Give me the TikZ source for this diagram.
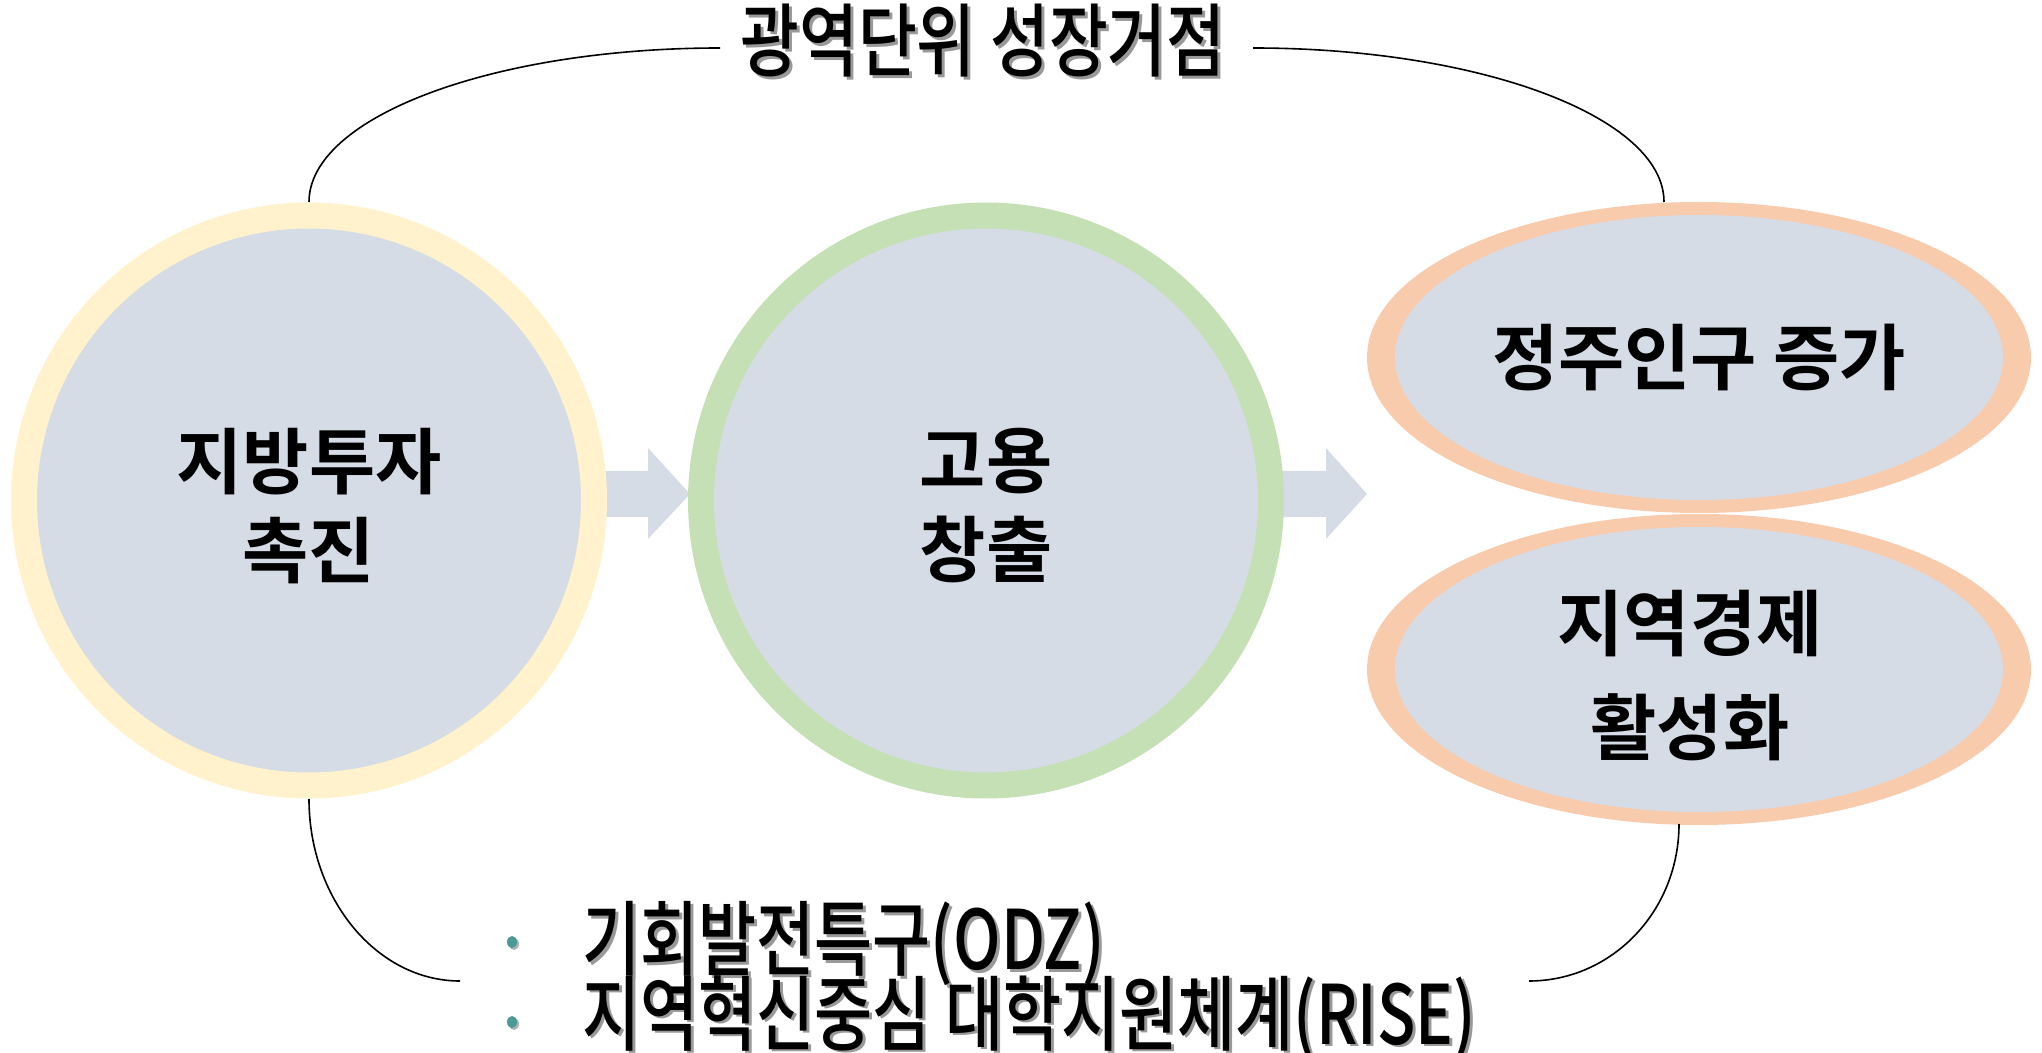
\documentclass[tikz,border=0pt]{standalone}
\usepackage{fontspec}
\usetikzlibrary{shapes.geometric}
\newfontfamily\krb{Noto Sans CJK KR Bold}
\newfontfamily\krc{Noto Sans CJK KR Medium}[FakeStretch=0.8]
\newfontfamily\krl{Noto Sans CJK KR Medium}[FakeStretch=0.77]
\definecolor{ringY}{HTML}{FFF2CC}
\definecolor{ringG}{HTML}{C5E0B4}
\definecolor{ringO}{HTML}{F8CBAD}
\definecolor{innerB}{HTML}{D6DCE5}
\definecolor{bulletteal}{HTML}{4A9A98}
\begin{document}
\begin{tikzpicture}[x=0.5pt,y=-0.5pt,
  ringcircle/.style={circle, draw=#1, line width=13pt, fill=innerB,
    minimum size=285pt, inner sep=0pt, outer sep=0pt},
  outerell/.style={ellipse, fill=ringO, minimum width=332pt, minimum height=155.5pt,
    inner sep=0pt, outer sep=0pt},
  innerell/.style={ellipse, fill=innerB, minimum width=304pt, minimum height=142.5pt,
    inner sep=0pt, outer sep=0pt},
  boldtext/.style={align=center, inner sep=0pt, font={\krb\fontsize{36}{44.5}\selectfont}},
  headtext/.style={inner sep=0pt, font={\krc\fontsize{40}{44}\selectfont}},
  bullettext/.style={anchor=base west, inner sep=0pt, text height=0.78em, text depth=0.04em,
    font={\krl\fontsize{41}{44}\selectfont}},
  shadowtext/.style={text=black!40},
  blockarrow/.style={fill=innerB},
  bracket/.style={draw=black, line width=0.8pt},
  dot/.style={ellipse, fill=bulletteal, minimum width=5pt, minimum height=6pt, inner sep=0pt},
  dotshadow/.style={ellipse, fill=black!30, minimum width=5pt, minimum height=6pt, inner sep=0pt}
]
\useasboundingbox (0,0) rectangle (2042,1053);

% block arrows (drawn first, shafts behind the circles)
\fill[blockarrow] (600,471) -- (648,471) -- (648,448) -- (690,494) -- (648,539) -- (648,517) -- (600,517) -- cycle;
\fill[blockarrow] (1276,471) -- (1326,471) -- (1326,448) -- (1367,494) -- (1326,539) -- (1326,517) -- (1276,517) -- cycle;

% circles
\node[ringcircle=ringY] (invest) at (309,500.5) {};
\node[ringcircle=ringG] (jobs) at (986,500.5) {};

% ellipses
\node[outerell] (popO) at (1699,357.5) {};
\node[innerell] (pop) at (1699,357.5) {};
\node[outerell] (econO) at (1699,669.5) {};
\node[innerell] (econ) at (1699,669.5) {};

% texts in shapes
\node[boldtext] (investT) at (309,506) {지방투자\\촉진};
\node[boldtext] (jobsT) at (986,506) {고용\\창출};
\node[boldtext] (popT) at (1699,358) {정주인구 증가};
\node[boldtext, font={\krb\fontsize{36}{52}\selectfont}] (econT) at (1690,675.5) {지역경제\\활성화};

% brackets
\coordinate (tl) at (309,202);
\coordinate (tle) at (720,48);
\coordinate (tre) at (1253,48);
\coordinate (tr) at (1664,202);
\coordinate (bl) at (309,799);
\coordinate (ble) at (460,981);
\coordinate (bre) at (1529,981);
\coordinate (br) at (1679,824);
\draw[bracket] (tl) .. controls (309,117) and (493,48) .. (tle);
\draw[bracket] (tre) .. controls (1480,48) and (1664,117) .. (tr);
\draw[bracket] (bl) .. controls (309,899) and (377,981) .. (ble);
\draw[bracket] (bre) .. controls (1612,981) and (1679,911) .. (br);

% title
\node[headtext, shadowtext] (titleS) at (986,44) {광역단위 성장거점};
\node[headtext] (title) at (983,41) {광역단위 성장거점};

% bullets
\node[dotshadow] (d1s) at (514,944) {};
\node[dot] (d1) at (512,942) {};
\node[dotshadow] (d2s) at (514,1024) {};
\node[dot] (d2) at (512,1022) {};
\node[bullettext, shadowtext] (b1s) at (585,972) {기회발전특구(ODZ)};
\node[bullettext] (b1) at (582,969) {기회발전특구(ODZ)};
\node[bullettext, shadowtext] (b2s) at (585,1046) {지역혁신중심 대학지원체계(RISE)};
\node[bullettext] (b2) at (582,1044) {지역혁신중심 대학지원체계(RISE)};
\end{tikzpicture}
\end{document}
